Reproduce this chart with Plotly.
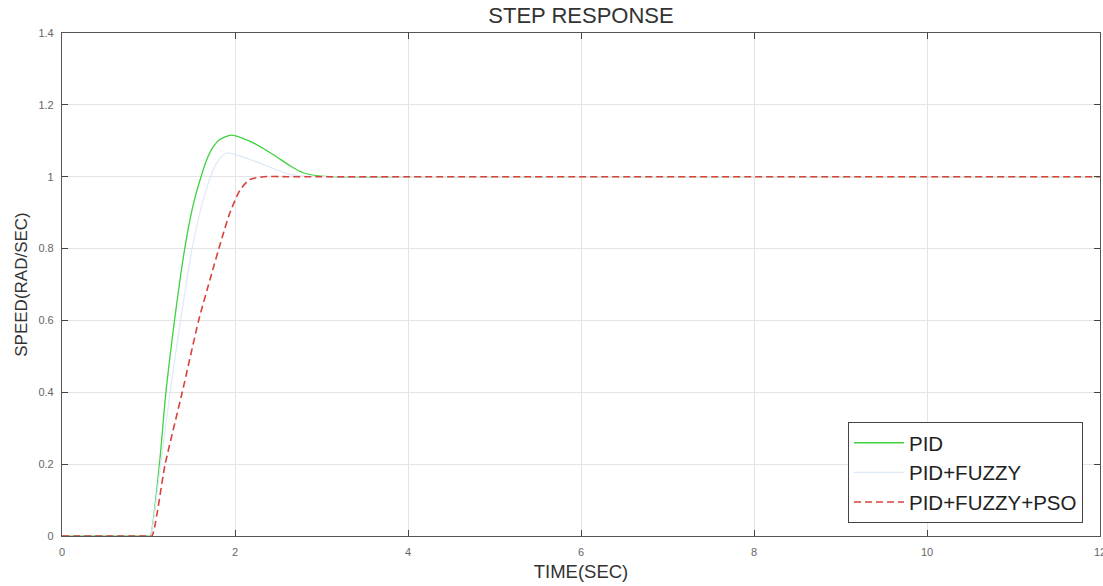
import plotly.graph_objects as go

# ---- data ----
t_pid = [0, 1.0, 1.02, 1.125, 1.20, 1.29, 1.364, 1.44, 1.52, 1.595, 1.67, 1.74, 1.82, 1.96, 2.17, 2.44, 2.64, 2.79, 2.94, 3.2, 3.6, 4.0, 12.0]
v_pid = [0, 0.0, 0.0, 0.197, 0.397, 0.580, 0.713, 0.830, 0.925, 0.990, 1.045, 1.080, 1.103, 1.116, 1.099, 1.062, 1.030, 1.011, 1.003, 0.999, 0.999, 1.0, 1.0]

t_fuzzy = [0, 1.0, 1.02, 1.14, 1.25, 1.37, 1.52, 1.65, 1.78, 1.90, 2.17, 2.37, 2.64, 3.0, 4.0, 12.0]
v_fuzzy = [0, 0.0, 0.0, 0.20, 0.40, 0.60, 0.82, 0.95, 1.035, 1.066, 1.048, 1.030, 1.006, 1.0, 1.0, 1.0]

t_pso = [0, 1.0, 1.04, 1.19, 1.39, 1.58, 1.71, 1.85, 1.94, 2.06, 2.17, 2.33, 2.6, 3.0, 12.0]
v_pso = [0, 0.0, 0.0, 0.197, 0.400, 0.600, 0.713, 0.830, 0.899, 0.964, 0.992, 1.000, 1.0, 1.0, 1.0]

x_ticks = [0, 2, 4, 6, 8, 10, 12]
x_ticktext = ["0", "2", "4", "6", "8", "10", "12"]
y_ticks = [0, 0.2, 0.4, 0.6, 0.8, 1.0, 1.2, 1.4]
y_ticktext = ["0", "0.2", "0.4", "0.6", "0.8", "1", "1.2", "1.4"]

FONT = "Liberation Sans, Arial, sans-serif"

fig = go.Figure()
fig.add_trace(go.Scatter(x=t_pid, y=v_pid, mode="lines", name="PID",
                         line=dict(color="#3fd23f", width=1.3, shape="spline", smoothing=0.7)))
fig.add_trace(go.Scatter(x=t_fuzzy, y=v_fuzzy, mode="lines", name="PID+FUZZY",
                         line=dict(color="#dde9f8", width=1.2, shape="spline", smoothing=0.7)))
fig.add_trace(go.Scatter(x=t_pso, y=v_pso, mode="lines", name="PID+FUZZY+PSO",
                         line=dict(color="#d8413c", width=1.6, dash="7px,4px", shape="spline", smoothing=0.6)))

axis_common = dict(
    showline=True, linecolor="#555555", linewidth=1.2, mirror="allticks",
    ticks="inside", ticklen=6, tickcolor="#444444", tickwidth=1,
    showgrid=True, gridcolor="#e4e4e4", gridwidth=1, zeroline=False,
    tickfont=dict(family=FONT, size=11, color="#666666"),
    ticklabeloverflow="allow", automargin=False,
)

fig.update_layout(
    width=1103, height=586,
    margin=dict(l=62, r=3, t=33, b=50),
    paper_bgcolor="white", plot_bgcolor="white",
    font=dict(family=FONT, color="#333333"),
    title=dict(text="STEP RESPONSE", x=0.5, xref="paper", xanchor="center",
               y=1 - 15 / 586, yanchor="middle",
               font=dict(family=FONT, size=22, color="#333333")),
    xaxis=dict(range=[0, 12], tickvals=x_ticks, ticktext=x_ticktext,
               title=dict(text="TIME(SEC)", font=dict(family=FONT, size=18.5, color="#333333"), standoff=7),
               ticklabelstandoff=6, **axis_common),
    yaxis=dict(range=[0, 1.4], tickvals=y_ticks, ticktext=y_ticktext,
               title=dict(text="SPEED(RAD/SEC)", font=dict(family=FONT, size=17, color="#333333"), standoff=6),
               ticklabelstandoff=5, **axis_common),
    legend=dict(x=0.9836, xanchor="right", y=0.026, yanchor="bottom",
                bgcolor="white", bordercolor="#444444", borderwidth=1,
                itemwidth=50,
                font=dict(family=FONT, size=20.5, color="#222222")),
    showlegend=True,
)

fig.write_html("out.html")
